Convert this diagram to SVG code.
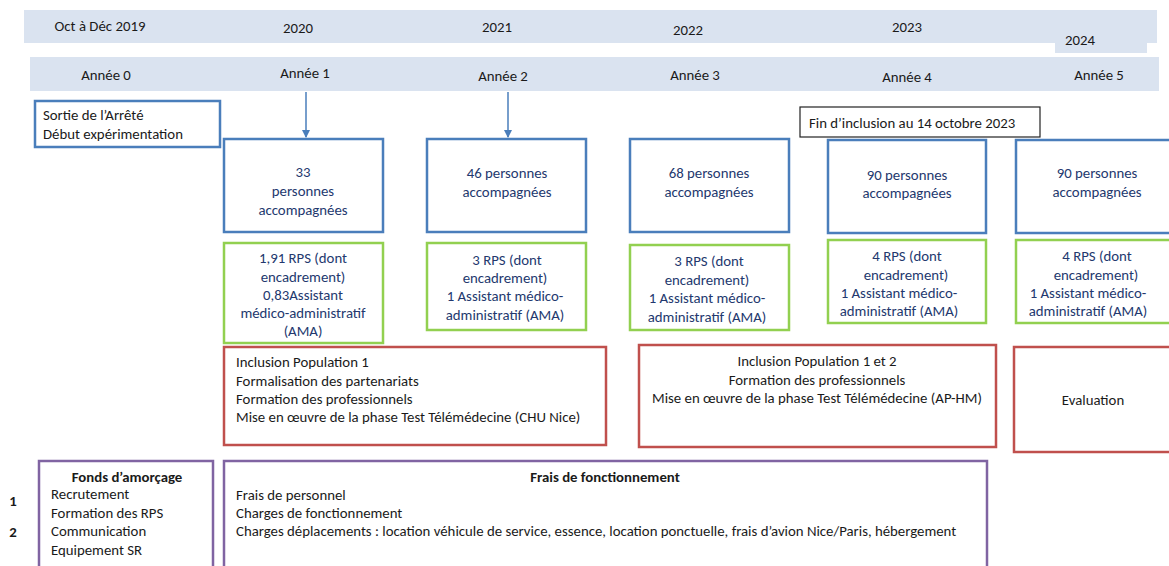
<svg xmlns="http://www.w3.org/2000/svg" width="1169" height="566" viewBox="0 0 1169 566">
<style>
text{font-family:Carlito,Lato,"Liberation Sans",sans-serif;font-size:14.8px;fill:#1a1a1a}
.band{fill:#dae3f0;stroke:none}
.c{text-anchor:middle}
.navy{fill:#23386e}
.blue{fill:#fff;stroke:#4a7ebb;stroke-width:2.5}
.green{fill:#fff;stroke:#92d050;stroke-width:2.5}
.red{fill:#fff;stroke:#c0504d;stroke-width:2.5}
.purple{fill:#fff;stroke:#8064a2;stroke-width:2.5}
.b{font-weight:bold}
</style>
<defs>
<marker id="ah" markerWidth="8" markerHeight="8" refX="7" refY="4" orient="auto" markerUnits="userSpaceOnUse">
<path d="M0,0 L8,4 L0,8 z" fill="#4a7ebb"/>
</marker>
</defs>
<rect width="1169" height="566" fill="#fff"/>
<g id="bands">
<rect class="band" x="24" y="10" width="1133" height="33"/>
<rect class="band" x="1055" y="30" width="92" height="23"/>
<rect class="band" x="30" y="57" width="1129" height="34"/>
<text x="100" y="31" class="c">Oct à Déc 2019</text>
<text x="298" y="33" class="c">2020</text>
<text x="497" y="32" class="c">2021</text>
<text x="688" y="35" class="c">2022</text>
<text x="907" y="32" class="c">2023</text>
<text x="1080" y="45" class="c">2024</text>
<text x="106" y="80" class="c">Année 0</text>
<text x="305" y="78" class="c">Année 1</text>
<text x="503" y="81" class="c">Année 2</text>
<text x="695" y="80" class="c">Année 3</text>
<text x="907" y="82" class="c">Année 4</text>
<text x="1099" y="80" class="c">Année 5</text>
</g>
<g id="connectors">
<line x1="306" y1="92" x2="306" y2="137" stroke="#4a7ebb" stroke-width="1.5" marker-end="url(#ah)"/>
<line x1="508" y1="92" x2="508" y2="137" stroke="#4a7ebb" stroke-width="1.5" marker-end="url(#ah)"/>
</g>
<g id="sortie">
<rect class="blue" x="35" y="101" width="185" height="46"/>
<text x="43" y="120">Sortie de l’Arrêté</text>
<text x="43" y="139">Début expérimentation</text>
</g>
<g id="fin">
<rect x="800" y="107" width="240" height="30" fill="#fff" stroke="#222" stroke-width="1.2"/>
<text x="809" y="128">Fin d’inclusion au 14 octobre 2023</text>
</g>
<g id="pers1">
<rect class="blue" x="224" y="139" width="159" height="93"/>
<text x="303" y="177" class="c navy">33</text>
<text x="303" y="196" class="c navy">personnes</text>
<text x="303" y="215" class="c navy">accompagnées</text>
</g>
<g id="pers2">
<rect class="blue" x="427" y="139" width="159" height="93"/>
<text x="507" y="178" class="c navy">46 personnes</text>
<text x="507" y="197" class="c navy">accompagnées</text>
</g>
<g id="pers3">
<rect class="blue" x="630" y="139" width="159" height="93"/>
<text x="709" y="178" class="c navy">68 personnes</text>
<text x="709" y="197" class="c navy">accompagnées</text>
</g>
<g id="pers4">
<rect class="blue" x="828" y="140" width="158" height="93"/>
<text x="907" y="180" class="c navy">90 personnes</text>
<text x="907" y="198" class="c navy">accompagnées</text>
</g>
<g id="pers5">
<rect class="blue" x="1016" y="140" width="160" height="93"/>
<text x="1097" y="178" class="c navy">90 personnes</text>
<text x="1097" y="197" class="c navy">accompagnées</text>
</g>
<g id="rps1">
<rect class="green" x="224" y="243" width="159" height="100"/>
<text x="303" y="263" class="c navy">1,91 RPS (dont</text>
<text x="303" y="282" class="c navy">encadrement)</text>
<text x="303" y="300" class="c navy">0,83Assistant</text>
<text x="303" y="318" class="c navy">médico-administratif</text>
<text x="303" y="336" class="c navy">(AMA)</text>
</g>
<g id="rps2">
<rect class="green" x="427" y="243" width="159" height="87"/>
<text x="507" y="265" class="c navy">3 RPS (dont</text>
<text x="505" y="283" class="c navy">encadrement)</text>
<text x="505" y="301" class="c navy">1 Assistant médico-</text>
<text x="505" y="320" class="c navy">administratif (AMA)</text>
</g>
<g id="rps3">
<rect class="green" x="630" y="245" width="159" height="85"/>
<text x="709" y="266" class="c navy">3 RPS (dont</text>
<text x="707" y="285" class="c navy">encadrement)</text>
<text x="707" y="303" class="c navy">1 Assistant médico-</text>
<text x="707" y="322" class="c navy">administratif (AMA)</text>
</g>
<g id="rps4">
<rect class="green" x="828" y="240" width="158" height="83"/>
<text x="907" y="261" class="c navy">4 RPS (dont</text>
<text x="906" y="280" class="c navy">encadrement)</text>
<text x="899" y="298" class="c navy">1 Assistant médico-</text>
<text x="899" y="316" class="c navy">administratif (AMA)</text>
</g>
<g id="rps5">
<rect class="green" x="1016" y="240" width="160" height="83"/>
<text x="1097" y="261" class="c navy">4 RPS (dont</text>
<text x="1096" y="280" class="c navy">encadrement)</text>
<text x="1088" y="298" class="c navy">1 Assistant médico-</text>
<text x="1088" y="316" class="c navy">administratif (AMA)</text>
</g>
<g id="act1">
<rect class="red" x="224" y="347" width="382" height="98"/>
<text x="236" y="367">Inclusion Population 1</text>
<text x="236" y="386">Formalisation des partenariats</text>
<text x="236" y="404">Formation des professionnels</text>
<text x="236" y="422">Mise en œuvre de la phase Test Télémédecine (CHU Nice)</text>
</g>
<g id="act2">
<rect class="red" x="639" y="345" width="357" height="102"/>
<text x="817" y="366" class="c">Inclusion Population 1 et 2</text>
<text x="817" y="385" class="c">Formation des professionnels</text>
<text x="817" y="403" class="c">Mise en œuvre de la phase Test Télémédecine (AP-HM)</text>
</g>
<g id="act3">
<rect class="red" x="1014" y="347" width="162" height="105"/>
<text x="1093" y="405" class="c">Evaluation</text>
</g>
<g id="nums">
<text x="13" y="506" class="c b">1</text>
<text x="13" y="537" class="c b">2</text>
</g>
<g id="fonds">
<rect class="purple" x="39" y="461" width="174" height="110"/>
<text x="127" y="482" class="c b">Fonds d’amorçage</text>
<text x="51" y="499">Recrutement</text>
<text x="51" y="518">Formation des RPS</text>
<text x="51" y="536">Communication</text>
<text x="51" y="555">Equipement SR</text>
</g>
<g id="frais">
<rect class="purple" x="224" y="461" width="763" height="110"/>
<text x="605" y="482" class="c b">Frais de fonctionnement</text>
<text x="236" y="500">Frais de personnel</text>
<text x="236" y="518">Charges de fonctionnement</text>
<text x="236" y="536">Charges déplacements : location véhicule de service, essence, location ponctuelle, frais d’avion Nice/Paris, hébergement</text>
</g>
</svg>
